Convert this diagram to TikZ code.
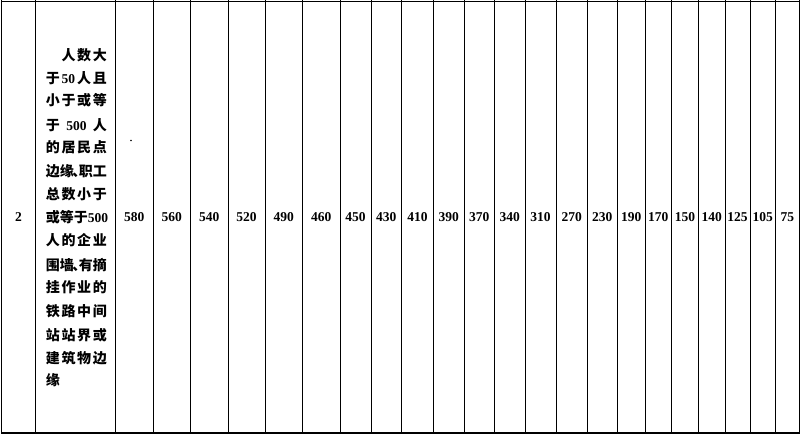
\documentclass[tikz,border=0pt]{standalone}
\usepackage{fontspec}
\setmainfont{Liberation Serif}
\newfontfamily\cjk{Noto Sans CJK SC}
\tikzset{
  grid/.style={line width=0.9pt,black},
  num/.style={inner sep=0pt,anchor=base,font=\fontsize{13.5}{14}\selectfont\bfseries},
  cjkline/.style={inner sep=0pt,anchor=base west,font=\fontsize{13.5}{14}\selectfont\bfseries},
}
\newcommand{\zh}[1]{{\cjk\fontsize{14}{15}\selectfont\bfseries #1}}
\newcommand{\jline}[1]{\makebox[61pt][s]{#1}}
\newcommand{\dun}{\hspace{-1.5pt}\zh{、}\hspace{-7.5pt}}
\begin{document}
\begin{tikzpicture}[x=1pt,y=-1pt]
\useasboundingbox (0,0) rectangle (800,434);
% frame
\draw[grid,line width=1pt] (1,1.2) -- (799,1.2);
\draw[grid,line width=2pt] (1,432.5) -- (799.5,432.5);
\draw[grid,line width=1.5pt] (1.6,0) -- (1.6,434);
\foreach \x in {35,115.7,153,190.7,228,265,302.3,340,371,401.7,433.3,464,494.3,525,556,587.3,617.3,645,671.7,698.3,725,750,775.7,799}
  \draw[grid] (\x,0) -- (\x,433);
% index
\node[num] (idx) at (18.5,221.8) {2};
% description
\node[cjkline] (l1) at (45.7,60.2) {\jline{\phantom{\zh{人}}\hfill\zh{人}\hfill\zh{数}\hfill\zh{大}}};
\node[cjkline] (l2) at (45.7,83.9) {\jline{\zh{于}\hfill 50\hfill\zh{人}\hfill\zh{且}}};
\node[cjkline] (l3) at (45.7,105.9) {\jline{\zh{小}\hfill\zh{于}\hfill\zh{或}\hfill\zh{等}}};
\node[cjkline] (l4) at (45.7,130.2) {\jline{\zh{于}\hfill 500\hfill\zh{人}}};
\node[cjkline] (l5) at (45.7,152.5) {\jline{\zh{的}\hfill\zh{居}\hfill\zh{民}\hfill\zh{点}}};
\node[cjkline] (l6) at (45.7,176.9) {\jline{\zh{边}\hfill\zh{缘}\dun\zh{职}\hfill\zh{工}}};
\node[cjkline] (l7) at (45.7,199.2) {\jline{\zh{总}\hfill\zh{数}\hfill\zh{小}\hfill\zh{于}}};
\node[cjkline] (l8) at (45.7,222.5) {\jline{\zh{或}\hfill\zh{等}\hfill\zh{于}\hfill 500}};
\node[cjkline] (l9) at (45.7,245.9) {\jline{\zh{人}\hfill\zh{的}\hfill\zh{企}\hfill\zh{业}}};
\node[cjkline] (l10) at (45.7,270.2) {\jline{\zh{围}\hfill\zh{墙}\dun\zh{有}\hfill\zh{摘}}};
\node[cjkline] (l11) at (45.7,292.5) {\jline{\zh{挂}\hfill\zh{作}\hfill\zh{业}\hfill\zh{的}}};
\node[cjkline] (l12) at (45.7,316.9) {\jline{\zh{铁}\hfill\zh{路}\hfill\zh{中}\hfill\zh{间}}};
\node[cjkline] (l13) at (45.7,340.2) {\jline{\zh{站}\hfill\zh{站}\hfill\zh{界}\hfill\zh{或}}};
\node[cjkline] (l14) at (45.7,363.5) {\jline{\zh{建}\hfill\zh{筑}\hfill\zh{物}\hfill\zh{边}}};
\node[cjkline] (l15) at (45.7,385.2) {\zh{缘}};
% stray dot
\fill (131,140.5) circle (0.9pt);
% values
\foreach \c/\v [count=\i] in {134.35/580,171.85/560,209.35/540,246.5/520,283.65/490,321.15/460,355.5/450,386.35/430,417.5/410,448.65/390,479.15/370,509.65/340,540.5/310,571.65/270,602.3/230,631.15/190,658.35/170,685/150,711.65/140,737.5/125,762.85/105,787.35/75}
  \node[num] (v\i) at (\c,221.8) {\v};
\end{tikzpicture}
\end{document}
